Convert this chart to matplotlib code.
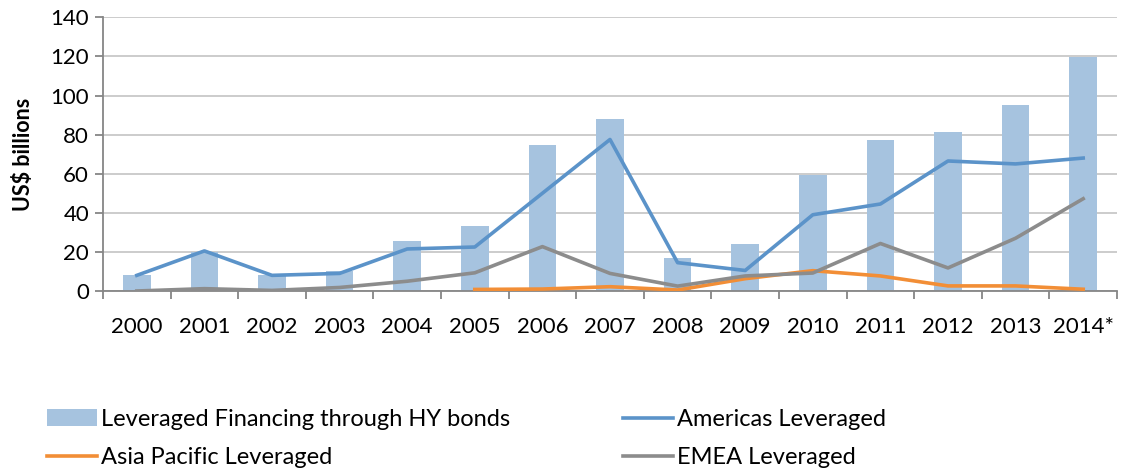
import matplotlib.pyplot as plt
import numpy as np

# values (US$ billions)
years = ["2000", "2001", "2002", "2003", "2004", "2005", "2006", "2007",
         "2008", "2009", "2010", "2011", "2012", "2013", "2014*"]
hy_bonds = [8, 20, 8, 10, 25.5, 33.5, 74.5, 88, 17, 24, 59.5, 77, 81.5, 95, 119.5]
americas = [8, 20.5, 8, 9, 21.5, 22.5, 50, 77.5, 14.5, 10.5, 39, 44.5, 66.5, 65, 68]
asia_pac = [np.nan, np.nan, np.nan, np.nan, np.nan, 0.8, 1, 2.2, 0.5, 6.3, 10.4, 7.7, 2.6, 2.6, 0.9]
emea = [0, 1.2, 0.3, 1.8, 5, 9.3, 22.7, 9, 2.5, 7.7, 9.2, 24.3, 11.8, 27, 47.2]

plt.rcParams['font.family'] = ['Lato', 'DejaVu Sans']

W, H = 1129, 471
fig = plt.figure(figsize=(W / 100, H / 100), dpi=100)
ax = fig.add_axes([103 / W, 1 - 291 / H, (1117 - 103) / W, (291 - 17.3) / H])

x = np.arange(len(years))
bars = ax.bar(x, hy_bonds, width=0.41, color='#a6c3df', zorder=2)
l_am, = ax.plot(x, americas, color='#5b93c9', lw=2.6, zorder=3)
l_ap, = ax.plot(x, asia_pac, color='#f28e36', lw=2.6, zorder=3)
l_em, = ax.plot(x, emea, color='#8c8c8c', lw=2.6, zorder=3)

ax.set_xlim(-0.5, len(years) - 0.5)
ax.set_ylim(0, 140)
ax.set_yticks(range(0, 141, 20))
ax.yaxis.grid(True, color='#c8c8c8', lw=1.3, zorder=0)

# category labels centred, tick marks between categories
ax.set_xticks(x)
ax.set_xticklabels(years, fontsize=16)
ax.set_xticks(np.arange(-0.5, len(years), 1), minor=True)
ax.tick_params(axis='x', which='major', length=0, pad=19)
ax.tick_params(axis='x', which='minor', length=6, width=1.3, color='#868686')
ax.tick_params(axis='y', length=6, width=1.3, color='#868686', labelsize=16, pad=4)

for side in ['top', 'right']:
    ax.spines[side].set_visible(False)
for side in ['left', 'bottom']:
    ax.spines[side].set_color('#868686')
    ax.spines[side].set_linewidth(1.3)

ax.set_ylabel('US$ billions', fontsize=15.5, fontweight='bold', labelpad=12)

leg_kw = dict(loc='upper left', frameon=False, fontsize=17, handlelength=2.1,
              handletextpad=0.2, labelspacing=0.72, borderpad=0, borderaxespad=0)
fig.legend([bars, l_ap], ['Leveraged Financing through HY bonds', 'Asia Pacific Leveraged'],
           bbox_to_anchor=(47 / W, 1 - 409 / H), **leg_kw)
fig.legend([l_am, l_em], ['Americas Leveraged', 'EMEA Leveraged'],
           bbox_to_anchor=(623 / W, 1 - 409 / H), **leg_kw)

fig.savefig('out.png', dpi=100)
